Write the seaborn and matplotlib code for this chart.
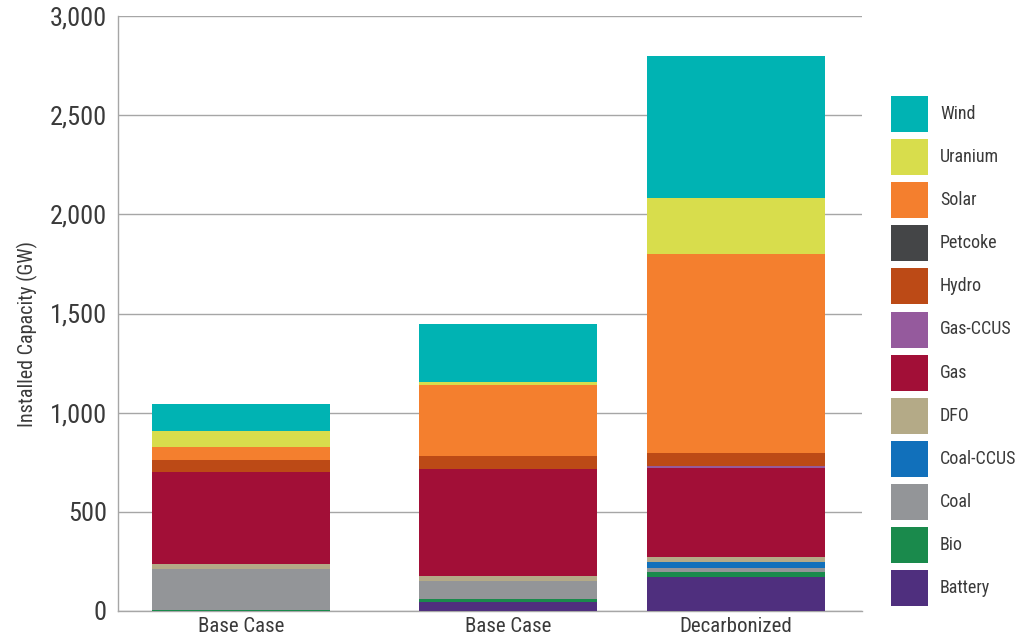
import numpy as np
import pandas as pd
import matplotlib
matplotlib.use('Agg')
import matplotlib.pyplot as plt
from matplotlib import font_manager
from matplotlib.ticker import FuncFormatter
from matplotlib.patches import Rectangle
import seaborn as sns

# ── Data (GW) ────────────────────────────────────────────────────────────────
scenarios = ["Base Case", "Base Case", "Decarbonized"]
x_pos     = [0.0, 1.5, 2.78]

# bottom → top stacking order
sources = ["Battery", "Bio", "Coal", "Coal-CCUS", "DFO", "Gas",
           "Gas-CCUS", "Hydro", "Petcoke", "Solar", "Uranium", "Wind"]
battery   = [0,   45,  171]
bio       = [5,   15,  26]
coal      = [205, 91,  20]
coal_ccus = [0,   0,   30]
dfo       = [25,  25,  25]
gas       = [465, 540, 449]
gas_ccus  = [0,   0,   10]
hydro     = [60,  65,  65]
petcoke   = [0,   0,   0]
solar     = [65,  358, 1003]
uranium   = [85,  17,  282]
wind      = [135, 290, 716]

colors = {
    "Wind": "#00B3B3", "Uranium": "#D8DD4C", "Solar": "#F47F2E",
    "Petcoke": "#444547", "Hydro": "#BC4A16", "Gas-CCUS": "#955A9D",
    "Gas": "#A20F37", "DFO": "#B4AA87", "Coal-CCUS": "#1170BB",
    "Coal": "#939598", "Bio": "#1A8A4C", "Battery": "#4F2F7E",
}

df = pd.DataFrame({
    "Battery": battery, "Bio": bio, "Coal": coal, "Coal-CCUS": coal_ccus,
    "DFO": dfo, "Gas": gas, "Gas-CCUS": gas_ccus, "Hydro": hydro,
    "Petcoke": petcoke, "Solar": solar, "Uranium": uranium, "Wind": wind,
}, index=scenarios)

# ── Style ────────────────────────────────────────────────────────────────────
sns.set_theme(style="white")
installed = {f.name for f in font_manager.fontManager.ttflist}
fams = [f for f in ["Roboto Condensed", "Liberation Sans Narrow", "Open Sans Condensed"]
        if f in installed] + ["DejaVu Sans"]
plt.rcParams['font.family'] = fams
TXT  = "#3a3a3a"
GRID = "#a6a6a6"

W, H = 1015, 643
fig = plt.figure(figsize=(W / 100, H / 100), dpi=100)
ax = fig.add_axes([118 / W, 1 - 611 / H, (862 - 118) / W, (611 - 16) / H])

bottom = np.zeros(len(scenarios))
for src in sources:
    vals = df[src].values
    ax.bar(x_pos, vals, bottom=bottom, width=1.0, color=colors[src],
           linewidth=0, zorder=3)
    bottom += vals

ax.set_xlim(-0.69, 3.49)
ax.set_ylim(0, 3000)
ax.set_yticks(np.arange(0, 3001, 500))
ax.yaxis.set_major_formatter(FuncFormatter(lambda v, p: f"{int(v):,}"))
ax.set_xticks(x_pos)
ax.set_xticklabels(scenarios)
ax.tick_params(axis='y', length=0, pad=8, labelsize=19, labelcolor=TXT)
ax.tick_params(axis='x', length=0, pad=4, labelsize=15, labelcolor=TXT)
ax.grid(axis='y', color=GRID, linewidth=1.0, zorder=0)
for s in ["top", "right"]:
    ax.spines[s].set_visible(False)
for s in ["left", "bottom"]:
    ax.spines[s].set_color(GRID)
    ax.spines[s].set_linewidth(1.0)
ax.set_ylabel("Installed Capacity (GW)", fontsize=14.5, color=TXT)
ax.yaxis.set_label_coords(-0.107, 0.466)

# legend drawn as boxes in figure pixels (top entry = Wind)
for i, src in enumerate(sources[::-1]):
    y_top = 96 + i * 43.1
    fig.patches.append(Rectangle((891 / W, 1 - (y_top + 36) / H), 37 / W, 36 / H,
                                 transform=fig.transFigure, facecolor=colors[src],
                                 edgecolor='none'))
    fig.text(940 / W, 1 - (y_top + 18) / H, src, fontsize=13, color=TXT,
             ha='left', va='center')

plt.savefig("out.png", dpi=100)
